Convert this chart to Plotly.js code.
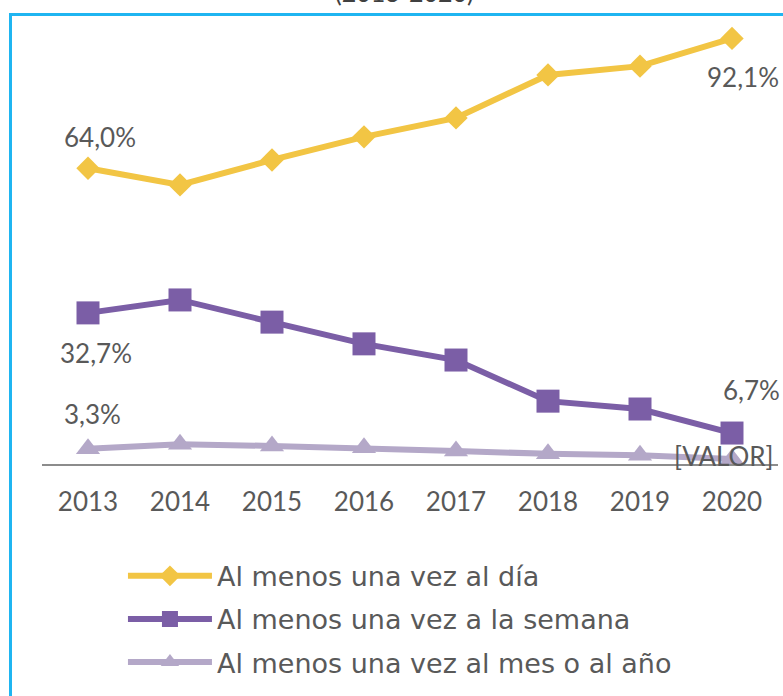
<!DOCTYPE html>
<html>
<head>
<meta charset="utf-8">
<script src="https://cdn.plot.ly/plotly-3.0.1.min.js"></script>
<style>
  html, body { margin: 0; padding: 0; background: #ffffff; }
  #chart { width: 783px; height: 696px; }
</style>
</head>
<body>
<div id="chart"></div>
<script>
// ---- data ----
const years = [2013, 2014, 2015, 2016, 2017, 2018, 2019, 2020];
const seriesNames = [
  "Al menos una vez al día",
  "Al menos una vez a la semana",
  "Al menos una vez al mes o al año"
];
const diario   = [64.0, 60.4, 65.8, 70.8, 74.9, 84.2, 86.1, 92.1];
const semanal  = [32.7, 35.5, 30.7, 26.0, 22.5, 13.6, 11.9, 6.7];
const mensual  = [3.3, 4.3, 3.9, 3.5, 2.8, 2.2, 1.9, 1.1];
const titleText = "(2013-2020)";
const placeholderLabel = "[VALOR]";

// ---- styles ----
const FONT = "Lato, 'DejaVu Sans', sans-serif";
const LEGFONT = "'DejaVu Sans', Lato, sans-serif";
const TXT = "#595959";
const colors = ["#F2C544", "#7B5EA6", "#B4A8C8"];
const symbols = ["diamond", "square", "triangle-up"];
const msizes = [18, 23, 21];

const fmt = v => v.toFixed(1).replace(".", ",") + "%";

const allSeries = [diario, semanal, mensual];
const traces = allSeries.map((vals, i) => ({
  type: "scatter",
  mode: "lines+markers",
  name: seriesNames[i],
  x: years,
  y: vals,
  line: { color: colors[i], width: 6 },
  marker: { color: colors[i], symbol: symbols[i], size: msizes[i] },
  cliponaxis: false,
  legendgroup: "g" + i,
  hoverinfo: "x+y"
}));

const last = years.length - 1;
const ann = [
  { x: years[0], y: diario[0], text: fmt(diario[0]), xshift: 12, yshift: 31 },
  { x: years[last], y: diario[last], text: fmt(diario[last]), xshift: 11, yshift: -39 },
  { x: years[0], y: semanal[0], text: fmt(semanal[0]), xshift: 8, yshift: -40 },
  { x: years[last], y: semanal[last], text: fmt(semanal[last]), xshift: 19, yshift: 43 },
  { x: years[0], y: mensual[0], text: fmt(mensual[0]), xshift: 4, yshift: 35 },
  { x: years[last], y: mensual[last], text: placeholderLabel, xshift: -8, yshift: 3 }
].map(a => Object.assign({
  xref: "x", yref: "y", showarrow: false,
  xanchor: "center", yanchor: "middle",
  font: { family: FONT, size: 26, color: TXT }
}, a));

ann.push({
  xref: "paper", yref: "paper", x: 0.493, y: 1.075,
  xanchor: "center", yanchor: "middle", showarrow: false,
  text: titleText,
  font: { family: FONT, size: 25, color: "#404040" }
});

const layout = {
  width: 783,
  height: 696,
  margin: { l: 42, r: 5, t: 25, b: 232 },
  paper_bgcolor: "#ffffff",
  plot_bgcolor: "#ffffff",
  showlegend: true,
  legend: {
    x: 0.11, xanchor: "left",
    y: -0.2, yanchor: "top",
    orientation: "v",
    traceorder: "grouped",
    tracegroupgap: 5,
    itemwidth: 84,
    font: { family: LEGFONT, size: 27, color: TXT },
    bgcolor: "rgba(0,0,0,0)"
  },
  xaxis: {
    range: [2012.5, 2020.5],
    tickmode: "array",
    tickvals: years,
    ticktext: years.map(String),
    showgrid: false,
    zeroline: false,
    showline: true,
    linecolor: "#8C8C8C",
    linewidth: 2,
    ticks: "",
    ticklabelstandoff: 14,
    tickfont: { family: FONT, size: 26, color: TXT },
    fixedrange: true
  },
  yaxis: {
    range: [0, 95],
    visible: false,
    showgrid: false,
    zeroline: false,
    fixedrange: true
  },
  annotations: ann,
  shapes: [{
    type: "rect", xref: "paper", yref: "paper",
    x0: -0.0428, x1: 1.1, y0: -0.7, y1: 1.0239,
    line: { color: "#1FB5F1", width: 3 },
    fillcolor: "rgba(0,0,0,0)",
    layer: "below"
  }]
};

Plotly.newPlot("chart", traces, layout, { displayModeBar: false, staticPlot: true });
</script>
</body>
</html>
